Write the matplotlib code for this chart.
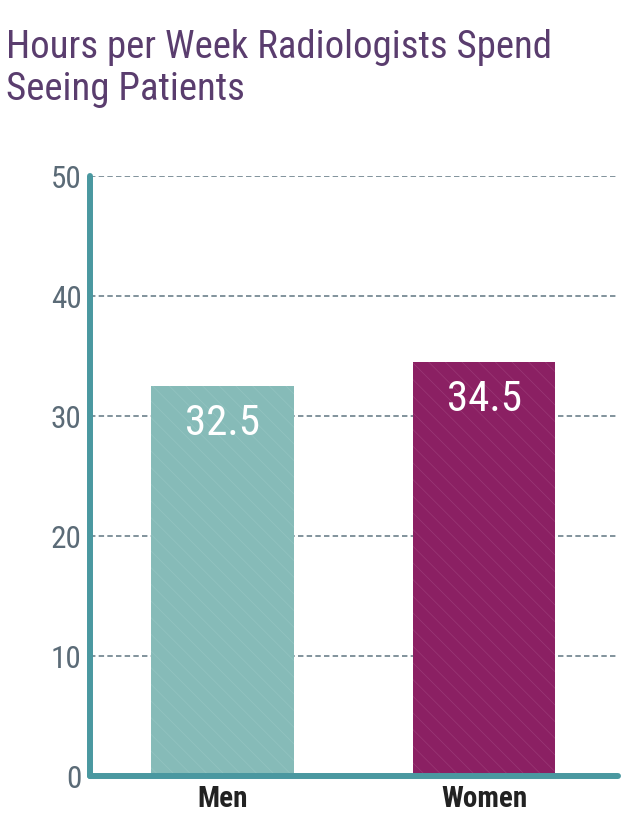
import matplotlib
matplotlib.use("Agg")
import matplotlib.pyplot as plt

categories = ["Men", "Women"]
values = [32.5, 34.5]
value_labels = ["32.5", "34.5"]
yticks = [0, 10, 20, 30, 40, 50]
title_lines = ["Hours per Week Radiologists Spend", "Seeing Patients"]

bar_colors = ["#86BBB8", "#8B2063"]
hatch_colors = ["#94C4C1", "#9A3876"]
axis_color = "#4A98A0"
grid_color = "#778A94"
tick_color = "#5B6B77"
title_color = "#5A3D6E"
FONT = "Roboto Condensed"

plt.rcParams["font.family"] = [FONT, "DejaVu Sans"]
plt.rcParams["hatch.linewidth"] = 0.5

W, H = 640, 837
fig = plt.figure(figsize=(W / 100, H / 100), dpi=100)
ax = fig.add_axes([90 / W, 1 - 777 / H, (618 - 90) / W, (777 - 177) / H])

x = list(range(len(categories)))
bars = ax.bar(x, values, width=0.545, color=bar_colors, linewidth=0, zorder=2)
for b, hc in zip(bars, hatch_colors):
    b.set_hatch("\\\\")
    b.set_edgecolor(hc)
    b.set_linewidth(0)

ax.set_xlim(-0.507, 1.512)
ax.set_ylim(0, 50)
ax.set_yticks(yticks)
ax.set_xticks(x)
ax.set_xticklabels(categories, fontsize=21, fontweight="bold", color="#222222")
ax.tick_params(axis="x", length=0, pad=6)
ax.tick_params(axis="y", length=0, pad=6, labelsize=22.5, labelcolor=tick_color)

ax.set_axisbelow(True)
ax.yaxis.grid(True, color=grid_color, linewidth=1.3, linestyle=(0, (3.0, 1.8)), zorder=0)
ax.xaxis.grid(False)

for s in ["top", "right"]:
    ax.spines[s].set_visible(False)
for s in ["left", "bottom"]:
    ax.spines[s].set_color(axis_color)
    ax.spines[s].set_linewidth(4.3)
    ax.spines[s].set_capstyle("round")
    ax.spines[s].set_zorder(5)

for xi, v, lab in zip(x, values, value_labels):
    ax.annotate(lab, (xi, v), xytext=(0, -34.5), textcoords="offset points",
                ha="center", va="baseline", color="white", fontsize=31,
                fontweight="normal", zorder=6)

fig.text(6 / W, 1 - 58 / H, title_lines[0], fontsize=28, color=title_color, va="baseline", ha="left")
fig.text(6 / W, 1 - 100 / H, title_lines[1], fontsize=28, color=title_color, va="baseline", ha="left")

fig.savefig("out.png", dpi=100)
